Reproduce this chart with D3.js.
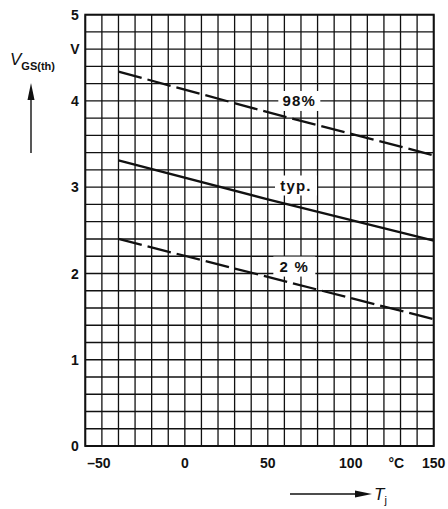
<!DOCTYPE html>
<html>
<head>
<meta charset="utf-8">
<script src="https://cdn.jsdelivr.net/npm/d3@7"></script>
<style>
  body { margin: 0; background: #fff; }
  text { font-family: "Liberation Sans", Arial, sans-serif; fill: #111; }
</style>
</head>
<body>
<div class="vgs-chart"></div>
<script>
// temperatures (°C)
const temps = [-40, 50, 150];
const v98 = [4.34, 3.87, 3.37];
const vTyp = [3.31, 2.86, 2.38];
const v2 = [2.40, 1.96, 1.47];

const xTicks = [-50, 0, 50, 100, 150];
const yTicks = [0, 1, 2, 3, 4, 5];

const curveNames = ['98%', 'typ.', '2 %'];
const curveLabelT = [69, 67, 66];
const curveLabelV = [4.0, 3.02, 2.08];

const width = 448;
const height = 509;

const svg = d3.select('.vgs-chart')
  .append('svg')
  .attr('width', width)
  .attr('height', height);

const x = d3.scaleLinear().domain([-60, 150]).range([85.3, 433.7]);
const y = d3.scaleLinear().domain([0, 5]).range([446, 14.7]);

// grid: 10 °C and 0.2 V steps
const grid = svg.append('g').attr('stroke', '#111').attr('stroke-width', 1.3);
grid.selectAll('.vline')
  .data(d3.range(-60, 151, 10))
  .enter()
  .append('line')
  .attr('x1', d => x(d)).attr('x2', d => x(d))
  .attr('y1', y(0)).attr('y2', y(5));
grid.selectAll('.hline')
  .data(d3.range(0, 26).map(i => i * 0.2))
  .enter()
  .append('line')
  .attr('y1', d => y(d)).attr('y2', d => y(d))
  .attr('x1', x(-60)).attr('x2', x(150));

svg.append('rect')
  .attr('x', x(-60)).attr('y', y(5))
  .attr('width', x(150) - x(-60)).attr('height', y(0) - y(5))
  .attr('fill', 'none').attr('stroke', '#111').attr('stroke-width', 2);

const line = d3.line()
  .x((d, i) => x(temps[i]))
  .y(d => y(d));

const curves = [
  { vals: v98, dash: '24,6' },
  { vals: vTyp, dash: null },
  { vals: v2, dash: '24,6' },
];

svg.selectAll('.curve')
  .data(curves)
  .enter()
  .append('path')
  .attr('d', d => line(d.vals))
  .attr('fill', 'none')
  .attr('stroke', '#111')
  .attr('stroke-width', 2.3)
  .attr('stroke-dasharray', d => d.dash);

// curve labels on white boxes
const lab = svg.selectAll('.clabel')
  .data(curveNames)
  .enter()
  .append('g')
  .attr('transform', (d, i) => `translate(${x(curveLabelT[i])},${y(curveLabelV[i])})`);
lab.append('rect')
  .attr('x', -21).attr('y', -10)
  .attr('width', 42).attr('height', 20)
  .attr('fill', '#fff');
lab.append('text')
  .attr('text-anchor', 'middle')
  .attr('dy', '0.36em')
  .attr('font-size', 15)
  .attr('font-weight', 'bold')
  .attr('letter-spacing', 1.2)
  .text(d => d);

// tick labels
svg.selectAll('.xt')
  .data(xTicks)
  .enter()
  .append('text')
  .attr('x', d => x(d) + (d < 0 ? -3 : 0))
  .attr('y', 468)
  .attr('text-anchor', 'middle')
  .attr('font-size', 14)
  .attr('font-weight', 'bold')
  .text(d => d < 0 ? '\u2013' + Math.abs(d) : d);

svg.append('text')
  .attr('x', x(127.5)).attr('y', 468)
  .attr('text-anchor', 'middle')
  .attr('font-size', 14)
  .attr('font-weight', 'bold')
  .text('°C');

svg.selectAll('.yt')
  .data(yTicks)
  .enter()
  .append('text')
  .attr('x', 75)
  .attr('y', d => y(d))
  .attr('dy', '0.36em')
  .attr('text-anchor', 'middle')
  .attr('font-size', 14)
  .attr('font-weight', 'bold')
  .text(d => d);

svg.append('text')
  .attr('x', 75).attr('y', y(4.6))
  .attr('dy', '0.36em')
  .attr('text-anchor', 'middle')
  .attr('font-size', 14)
  .attr('font-weight', 'bold')
  .text('V');

// axis titles with arrows
svg.append('line')
  .attr('x1', 31).attr('x2', 31)
  .attr('y1', 153).attr('y2', 95)
  .attr('stroke', '#111').attr('stroke-width', 1.4);
svg.append('path')
  .attr('d', 'M31,83 L27.5,100 L34.5,100 Z')
  .attr('fill', '#111');

const vt = svg.append('text')
  .attr('x', 10).attr('y', 65)
  .attr('font-size', 17)
  .attr('font-style', 'italic');
vt.append('tspan').text('V');
vt.append('tspan')
  .attr('font-size', 11)
  .attr('font-style', 'normal')
  .attr('font-weight', 'bold')
  .attr('dy', 5)
  .text('GS(th)');

svg.append('line')
  .attr('x1', 290).attr('x2', 360)
  .attr('y1', 494).attr('y2', 494)
  .attr('stroke', '#111').attr('stroke-width', 1.4);
svg.append('path')
  .attr('d', 'M372,494 L355,490.5 L355,497.5 Z')
  .attr('fill', '#111');

const tt = svg.append('text')
  .attr('x', 374).attr('y', 500)
  .attr('font-size', 17)
  .attr('font-style', 'italic');
tt.append('tspan').text('T');
tt.append('tspan')
  .attr('font-size', 11)
  .attr('font-style', 'normal')
  .attr('dy', 4)
  .text('j');
</script>
</body>
</html>
